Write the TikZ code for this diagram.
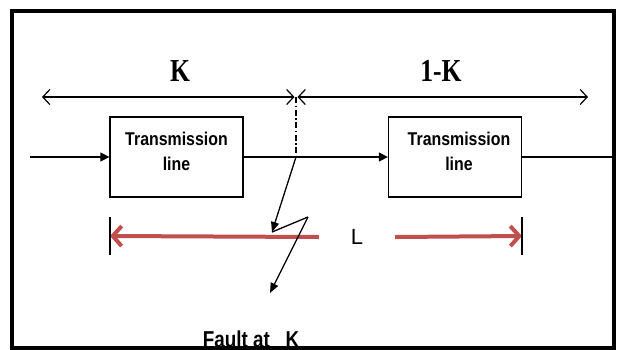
\documentclass[tikz,border=0pt]{standalone}
\usepackage{fontspec}
\setmainfont{Liberation Sans}
\newfontfamily\serifb{Liberation Serif}
\usetikzlibrary{arrows.meta}
\definecolor{lred}{HTML}{C0504D}
\begin{document}
\begin{tikzpicture}[x=1pt,y=-1pt,
  tlbox/.style={draw, line width=1.3pt, minimum width=133pt, minimum height=80pt, inner sep=0pt},
  tltext/.style={align=center, inner sep=0pt, font=\fontsize{18.5}{25}\selectfont\bfseries},
  klabel/.style={inner sep=0pt, font=\fontsize{32}{33}\selectfont\serifb\bfseries},
  fillarr/.style={line width=1.3pt, -{Triangle[length=9pt,width=9pt]}},
  dimarr/.style={line width=1.2pt, {Straight Barb[length=7pt,width=15pt]}-{Straight Barb[length=7pt,width=15pt]}},
  redarr/.style={draw=lred, line width=4pt, -{Straight Barb[length=9pt,width=20pt,line width=4pt]}},
  thin/.style={line width=1.3pt}]
\useasboundingbox (0,0) rectangle (622,349);
\fill[white] (0,0) rectangle (622,349);

% boxes
\node[tlbox] (b1) at (176.5,157) {};
\node[tlbox] (b2) at (455,157) {};
\node[tltext] (t1) at ([yshift=6pt]b1.center) {\scalebox{0.86}[1]{Transmission}\\\scalebox{0.86}[1]{line}};
\node[tltext] (t2) at ([xshift=4pt,yshift=6pt]b2.center) {\scalebox{0.86}[1]{Transmission}\\\scalebox{0.86}[1]{line}};

% main line
\coordinate (in) at (30,157);
\coordinate (out) at (612,157);
\coordinate (f) at (296,157);
\draw[fillarr] (in) -- (b1.west);
\draw[fillarr] (b1.east) -- (b2.west);
\draw[thin] (b2.east) -- (out);

% dimension arrows
\coordinate (d1) at (42,97);
\coordinate (dl) at (294.5,97);
\coordinate (dr) at (297.5,97);
\coordinate (d2) at (588,97);
\coordinate (dtop) at (296,97);
\draw[dimarr] (d1) -- (dl);
\draw[dimarr] (dr) -- (d2);
\draw[line width=1.2pt, dash pattern=on 6pt off 2.5pt on 1.5pt off 2.5pt] (dtop) -- (f);
\node[klabel] (kl) at (180,71) {\scalebox{0.8}[1]{K}};
\node[klabel] (kr) at (441,71) {\scalebox{0.8}[1]{1-K}};

% red L arrows
\coordinate (rl) at (110,236);
\coordinate (rr) at (522,236);
\node[inner sep=0pt, minimum width=76pt, font=\fontsize{22}{23}\selectfont] (L) at (357,237) {L};
\draw[redarr] (L.west) -- (rl);
\draw[redarr] (L.east) -- (rr);
\draw[thin] ([yshift=19pt]rl) -- ([yshift=-19pt]rl);
\draw[thin] ([yshift=19pt]rr) -- ([yshift=-19pt]rr);

% fault
\coordinate (p1) at (272,232);
\coordinate (p2) at (308,217);
\coordinate (p3) at (270,293);
\draw[fillarr, -{Triangle[length=10pt,width=8pt]}] (f) -- (p1);
\draw[thin] (p1) -- (p2);
\draw[fillarr, -{Triangle[length=10pt,width=8pt]}] (p2) -- (p3);

\begin{scope}
\clip (0,0) rectangle (622,346);
\node[inner sep=0pt, font=\fontsize{23}{24}\selectfont\bfseries] (ft) at (251,339) {\scalebox{0.82}[1]{Fault at\ \ \ K}};
\end{scope}

% frame
\draw[line width=4pt] (12,11) rectangle (614,347.5);
\end{tikzpicture}
\end{document}
